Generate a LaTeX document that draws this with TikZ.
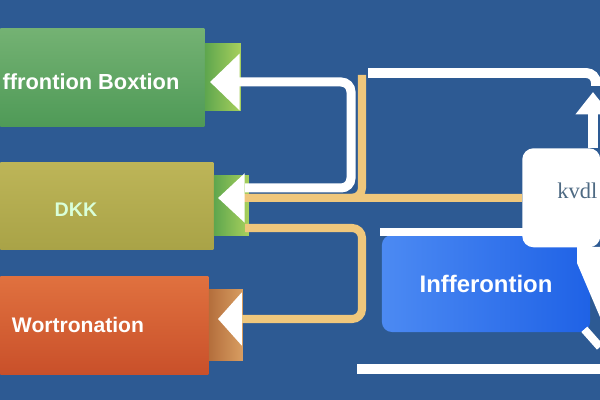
\documentclass[tikz,border=0pt]{standalone}
\usepackage{fontspec}
\setmainfont{Liberation Sans}
\newfontfamily\serifkv{Liberation Serif}
\usepackage{tikz}
\usetikzlibrary{arrows.meta,positioning}

\definecolor{bgblue}{HTML}{2D5A93}
\definecolor{greentop}{HTML}{74B273}
\definecolor{greenbot}{HTML}{4F9A57}
\definecolor{olivetop}{HTML}{BDB558}
\definecolor{olivebot}{HTML}{A9A347}
\definecolor{orangetop}{HTML}{E0713F}
\definecolor{orangebot}{HTML}{C9502A}
\definecolor{tabgreenl}{HTML}{5EA64E}
\definecolor{tabgreenr}{HTML}{A8D05C}
\definecolor{tabbrownl}{HTML}{B46E3C}
\definecolor{tabbrownr}{HTML}{D89E62}
\definecolor{tanline}{HTML}{EFC77C}
\definecolor{inferl}{HTML}{4C8AF3}
\definecolor{inferr}{HTML}{1F62E6}
\definecolor{kvtext}{HTML}{4E6A83}

\begin{document}
\begin{tikzpicture}[x=0.025cm,y=-0.025cm,node distance=0pt,auto]

    \tikzstyle{box}=[rectangle,inner sep=0pt,anchor=north west]
    \tikzstyle{tab}=[rectangle,inner sep=0pt,left color=tabgreenl,right color=tabgreenr]
    \tikzstyle{boxtext}=[inner sep=0pt,text=white,font=\bfseries\fontsize{15.5}{18}\selectfont]
    \tikzstyle{wline}=[draw=white,line width=6.4pt,rounded corners=7pt]
    \tikzstyle{tline}=[draw=tanline,line width=5.7pt,rounded corners=7pt]

    \useasboundingbox (0,0) rectangle (600,400);
    \fill[bgblue] (0,0) rectangle (600,400);

    % left boxes with their tabs
    \node[box,top color=greentop,bottom color=greenbot,minimum width=5.1cm,minimum height=2.45cm]  (info) at (0,28)  {};
    \node[tab,minimum width=0.9cm,minimum height=1.675cm,right=of info] (infotab) {};
    \node[box,top color=olivetop,bottom color=olivebot,minimum width=5.325cm,minimum height=2.175cm] (dkk) at (0,162) {};
    \node[tab,minimum width=0.875cm,minimum height=1.5cm,right=of dkk] (dkktab) {};
    \node[box,top color=orangetop,bottom color=orangebot,minimum width=5.2cm,minimum height=2.45cm] (work) at (0,276) {};
    \node[tab,left color=tabbrownl,right color=tabbrownr,minimum width=0.85cm,minimum height=1.775cm,right=of work] (worktab) {};

    \node[boxtext] (infotext) at (91,82) {ffrontion Boxtion};
    \node[boxtext,text=white!85!green,font=\bfseries\fontsize{14}{16}\selectfont] (dkktext) at (76,210) {DKK};
    \node[boxtext,font=\bfseries\fontsize{15}{18}\selectfont] (worktext) at (78,325) {Wortronation};

    % right boxes
    \node[rectangle,rounded corners=7pt,left color=inferl,right color=inferr,minimum width=5.2cm,minimum height=2.425cm,
          text=white,font=\bfseries\fontsize{17}{20}\selectfont] (infer) at (486,283.5) {Infferontion};
    \node[box,fill=white,rounded corners=8pt,minimum width=1.95cm,minimum height=2.475cm] (kvdl) at (522,148) {};
    \node[inner sep=0pt,anchor=west,text=kvtext,font=\serifkv\fontsize{16}{18}\selectfont] (kvdltext) at (557,191) {kvdl};
    \fill[white] (380,228) rectangle (530,236);
    \fill[white] (577,247) -- (600,247) -- (600,317) -- (577,263) -- cycle;

    \coordinate (infotip) at (210,82);
    \coordinate (dkktip)  at (218,198);
    \coordinate (worktip) at (218,319);
    \coordinate (loopin)  at (245,188);
    \coordinate (dkkout)  at (245,228);
    \coordinate (tantop)  at (362,75);
    \coordinate (topl)    at (368,73);
    \coordinate (uptip)   at (593,92);
    \coordinate (botl)    at (357,369);
    \coordinate (botr)    at (600,369);

    % connectors
    \path[wline,-{Triangle[length=21pt,width=39pt,color=white]}] (loopin) -| (351,82) -- (infotip);
    \path[tline] (tantop) |- (dkktab.east |- kvdl.west);
    \path[tline,-{Triangle[length=19pt,width=34pt,color=white]}] (kvdl.west) -- (dkktip);
    \path[tline,-{Triangle[length=17pt,width=37pt,color=white]}] (dkkout) -| (362,319) -- (worktip);
    \path[wline,line width=7pt] (topl) -- (596,73) -- (596,86);
    \path[wline,line width=7pt,-{Triangle[length=16pt,width=24pt,color=white]}] (uptip |- kvdl.north) -- (uptip);
    \path[wline,line width=7pt] (botl) -- (botr);
    \path[draw=white,line width=5.7pt] (infer.south east) ++(-6,-3) -- (600,347);

\end{tikzpicture}
\end{document}
